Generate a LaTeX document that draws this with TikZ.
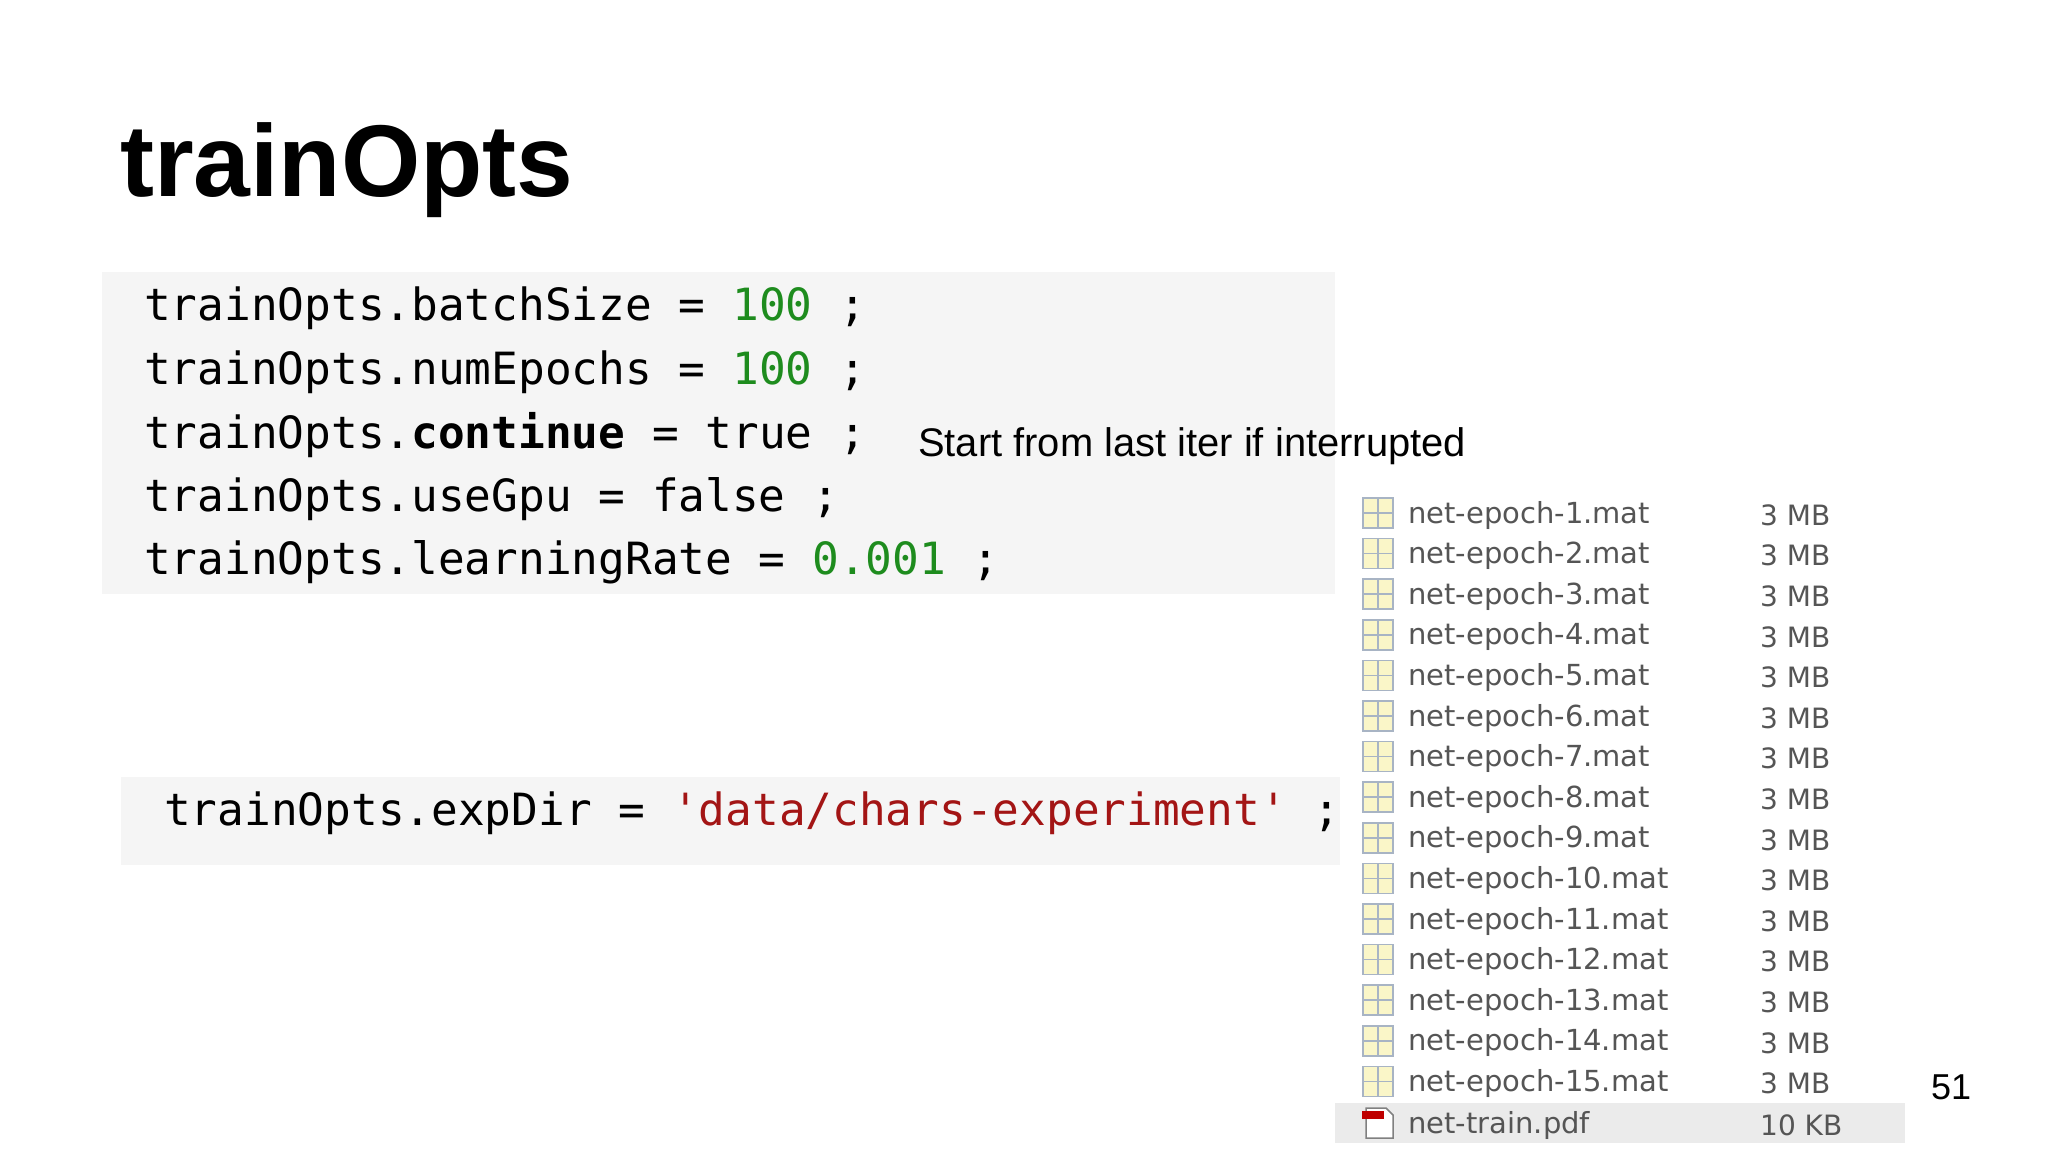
\documentclass[tikz,border=0pt]{standalone}
\usepackage{fontspec}
\setmainfont{Liberation Sans}
\newfontfamily\codefont{DejaVu Sans Mono}
\newfontfamily\filefont{DejaVu Sans}
\definecolor{codebg}{HTML}{F5F5F5}
\definecolor{numgreen}{HTML}{1E8C1E}
\definecolor{strred}{HTML}{A31515}
\definecolor{filegray}{HTML}{555555}
\definecolor{iconfill}{HTML}{FAF6C8}
\definecolor{iconline}{HTML}{A8B4C4}
\begin{document}
\begin{tikzpicture}[x=1pt,y=-1pt,
  code/.style={anchor=west,inner sep=0,font=\codefont\fontsize{44.4}{52}\selectfont},
  fname/.style={anchor=west,inner sep=0,text=filegray,font=\filefont\fontsize{29}{34}\selectfont},
  fsize/.style={anchor=west,inner sep=0,text=filegray,font=\filefont\fontsize{28}{34}\selectfont}]
\useasboundingbox (0,0) rectangle (2048,1152);
\fill[white] (0,0) rectangle (2048,1152);
\node[anchor=base west,inner sep=0,font=\fontsize{102}{114}\selectfont\bfseries] (title) at (120,196) {trainOpts};
\fill[codebg] (102,272) rectangle (1335,594);
\fill[codebg] (121,777) rectangle (1340,865);
\node[code] (l1) at (144,308) {trainOpts.batchSize = \textcolor{numgreen}{100} ;};
\node[code] (l2) at (144,372) {trainOpts.numEpochs = \textcolor{numgreen}{100} ;};
\node[code] (l3) at (144,435) {trainOpts.\textbf{continue} = true ;};
\node[code] (l4) at (144,499) {trainOpts.useGpu = false ;};
\node[code] (l5) at (144,562) {trainOpts.learningRate = \textcolor{numgreen}{0.001} ;};
\node[code] (l6) at (164,813) {trainOpts.expDir = \textcolor{strred}{'data/chars-experiment'} ;};
\node[anchor=west,inner sep=0,font=\fontsize{39.9}{46}\selectfont] (note) at (918,446) {Start from last iter if interrupted};
\fill[black!8] (1335,1103) rectangle (1905,1143);
\foreach \i in {1,...,15}{
  \pgfmathsetmacro{\yy}{513+(\i-1)*40.6}
  \fill[iconfill] (1363,\yy-15) rectangle (1393,\yy+15);
  \draw[iconline,line width=1.5] (1363,\yy-15) rectangle (1393,\yy+15) (1378,\yy-15) -- (1378,\yy+15) (1363,\yy) -- (1393,\yy);
  \node[fname] (f\i) at (1408,\yy+2) {net-epoch-\i.mat};
  \node[fsize] (s\i) at (1760,\yy+2) {3 MB};
}
\draw[gray,line width=1.5,fill=white] (1366,1108) -- (1386,1108) -- (1393,1115) -- (1393,1138) -- (1366,1138) -- cycle;
\fill[red!75!black] (1362,1111) rectangle (1384,1119);
\node[fname] (fp) at (1408,1125) {net-train.pdf};
\node[fsize] (sp) at (1760,1125) {10 KB};
\node[font=\fontsize{36}{42}\selectfont,inner sep=0] (page) at (1951,1087) {51};
\end{tikzpicture}
\end{document}
